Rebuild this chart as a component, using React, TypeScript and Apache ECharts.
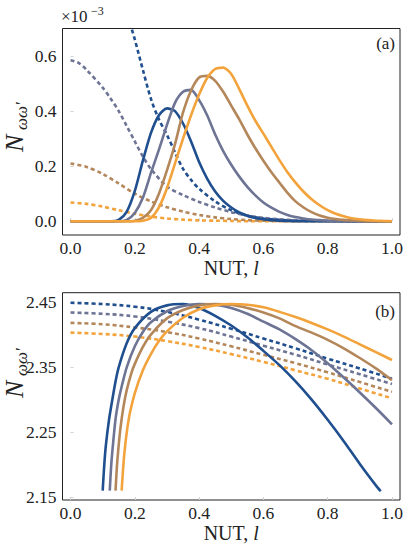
import React, { useEffect, useRef } from "react";
import * as echarts from "echarts";

const FONT = "'Liberation Serif', serif";
const INK = "#222222";

// blue, grey-blue, brown, orange
const colors = ["#1f4f8f", "#6d7494", "#b4875b", "#f3a33b"];

const xTickValues = [0, 0.2, 0.4, 0.6, 0.8, 1.0];
const yTickValuesA = [0, 0.2, 0.4, 0.6];
const yTickValuesB = [2.15, 2.25, 2.35, 2.45];

// ---------- Panel (a) ----------
const xGridA = [
  0, 0.025, 0.05, 0.075, 0.1, 0.125, 0.15, 0.175, 0.2, 0.225, 0.25, 0.275, 0.3, 0.325,
  0.35, 0.375, 0.4, 0.425, 0.45, 0.475, 0.5, 0.525, 0.55, 0.575, 0.6, 0.625, 0.65,
  0.675, 0.7, 0.725, 0.75, 0.775, 0.8, 0.825, 0.85, 0.875, 0.9, 0.925, 0.95, 0.975, 1.0,
];
const aSolidBlue = [
  0, 0, 0, 0, 0, 0, 0.005, 0.035, 0.11, 0.22, 0.32, 0.385, 0.41, 0.4, 0.355, 0.29, 0.215,
  0.155, 0.108, 0.074, 0.05, 0.032, 0.02, 0.012, 0.007, 0.004, 0.002, 0.001, 0, 0, 0, 0, 0,
  0, 0, 0, 0, 0, 0, 0, 0,
];
const aSolidGrey = [
  0, 0, 0, 0, 0, 0, 0, 0.005, 0.03, 0.085, 0.175, 0.26, 0.35, 0.43, 0.47, 0.477, 0.44,
  0.385, 0.315, 0.255, 0.205, 0.162, 0.125, 0.094, 0.068, 0.049, 0.034, 0.023, 0.015,
  0.01, 0.006, 0.004, 0.002, 0.001, 0, 0, 0, 0, 0, 0, 0,
];
const aSolidBrown = [
  0, 0, 0, 0, 0, 0, 0, 0, 0.002, 0.012, 0.04, 0.1, 0.185, 0.28, 0.395, 0.475, 0.522, 0.528,
  0.51, 0.47, 0.42, 0.37, 0.315, 0.265, 0.22, 0.178, 0.14, 0.103, 0.072, 0.05, 0.033,
  0.021, 0.013, 0.008, 0.005, 0.003, 0.001, 0, 0, 0, 0,
];
const aSolidOrange = [
  0, 0, 0, 0, 0, 0, 0, 0, 0, 0.002, 0.012, 0.05, 0.12, 0.21, 0.3, 0.385, 0.46, 0.52, 0.553,
  0.558, 0.535, 0.48, 0.42, 0.365, 0.318, 0.27, 0.222, 0.178, 0.14, 0.107, 0.08, 0.058,
  0.04, 0.027, 0.018, 0.011, 0.007, 0.004, 0.002, 0.001, 0,
];

const xDotBlueA = [
  0.18, 0.19, 0.2, 0.225, 0.25, 0.275, 0.3, 0.325, 0.35, 0.375, 0.4, 0.45, 0.5, 0.55, 0.6,
  0.65, 0.7, 0.8, 0.9, 1.0,
];
const aDotBlue = [
  0.745, 0.7, 0.66, 0.55, 0.445, 0.37, 0.314, 0.25, 0.19, 0.15, 0.118, 0.072, 0.04, 0.02,
  0.01, 0.005, 0.002, 0.001, 0, 0,
];
const xDotGreyA = [
  0, 0.025, 0.05, 0.1, 0.125, 0.15, 0.175, 0.2, 0.225, 0.25, 0.3, 0.35, 0.4, 0.45, 0.5,
  0.55, 0.6, 0.65, 0.7, 0.8, 0.9, 1.0,
];
const aDotGrey = [
  0.585, 0.575, 0.55, 0.485, 0.445, 0.4, 0.345, 0.29, 0.235, 0.19, 0.126, 0.095, 0.07,
  0.05, 0.033, 0.021, 0.012, 0.007, 0.004, 0.001, 0, 0,
];
const xDotLowA = [0, 0.05, 0.1, 0.15, 0.2, 0.25, 0.3, 0.35, 0.4, 0.45, 0.5, 0.55, 0.6, 0.7, 0.8, 1.0];
const aDotBrown = [
  0.21, 0.197, 0.172, 0.137, 0.1, 0.072, 0.051, 0.035, 0.023, 0.014, 0.008, 0.004, 0.002,
  0, 0, 0,
];
const aDotOrange = [
  0.068, 0.063, 0.053, 0.04, 0.027, 0.017, 0.01, 0.006, 0.003, 0.002, 0.001, 0, 0, 0, 0, 0,
];

// ---------- Panel (b) ----------
const xDotB = [0, 0.1, 0.2, 0.3, 0.4, 0.5, 0.6, 0.7, 0.8, 0.9, 1.0];
const bDotBlue = [2.449, 2.447, 2.443, 2.435, 2.423, 2.409, 2.394, 2.379, 2.363, 2.348, 2.332];
const bDotGrey = [2.434, 2.432, 2.428, 2.42, 2.41, 2.397, 2.383, 2.369, 2.354, 2.339, 2.324];
const bDotBrown = [2.418, 2.416, 2.411, 2.404, 2.394, 2.382, 2.369, 2.356, 2.342, 2.327, 2.312];
const bDotOrange = [2.403, 2.401, 2.397, 2.39, 2.381, 2.37, 2.358, 2.345, 2.332, 2.317, 2.302];

const xSolidBlueB = [
  0.1, 0.105, 0.11, 0.12, 0.13, 0.14, 0.15, 0.175, 0.2, 0.25, 0.3, 0.35, 0.4, 0.45, 0.5,
  0.55, 0.6, 0.65, 0.7, 0.75, 0.8, 0.85, 0.9, 0.95, 0.965,
];
const bSolidBlue = [
  2.16, 2.2, 2.23, 2.27, 2.3, 2.328, 2.35, 2.387, 2.41, 2.435, 2.445, 2.447, 2.441, 2.429,
  2.414, 2.396, 2.375, 2.353, 2.328, 2.3, 2.269, 2.236, 2.201, 2.168, 2.159,
];
const xSolidGreyB = [
  0.122, 0.126, 0.13, 0.14, 0.15, 0.16, 0.175, 0.2, 0.225, 0.25, 0.3, 0.35, 0.4, 0.45, 0.5,
  0.55, 0.6, 0.65, 0.7, 0.75, 0.8, 0.85, 0.9, 0.95, 1.0,
];
const bSolidGrey = [
  2.16, 2.195, 2.22, 2.27, 2.3, 2.322, 2.35, 2.382, 2.404, 2.419, 2.436, 2.444, 2.447,
  2.446, 2.441, 2.432, 2.42, 2.408, 2.393, 2.376, 2.356, 2.334, 2.311, 2.287, 2.262,
];
const xSolidBrownB = [
  0.14, 0.144, 0.148, 0.155, 0.165, 0.175, 0.19, 0.2, 0.225, 0.25, 0.3, 0.35, 0.4, 0.45,
  0.5, 0.55, 0.6, 0.65, 0.7, 0.75, 0.8, 0.85, 0.9, 0.95, 1.0,
];
const bSolidBrown = [
  2.16, 2.195, 2.22, 2.255, 2.29, 2.315, 2.342, 2.355, 2.381, 2.4, 2.425, 2.438, 2.445,
  2.447, 2.446, 2.441, 2.434, 2.425, 2.413, 2.403, 2.392, 2.379, 2.364, 2.348, 2.33,
];
const xSolidOrangeB = [
  0.159, 0.163, 0.167, 0.175, 0.185, 0.2, 0.225, 0.25, 0.275, 0.3, 0.35, 0.4, 0.45, 0.5,
  0.55, 0.6, 0.65, 0.7, 0.75, 0.8, 0.85, 0.9, 0.95, 1.0,
];
const bSolidOrange = [
  2.16, 2.19, 2.215, 2.25, 2.28, 2.31, 2.345, 2.37, 2.39, 2.405, 2.426, 2.439, 2.445,
  2.447, 2.446, 2.442, 2.435, 2.427, 2.418, 2.408, 2.397, 2.385, 2.373, 2.361,
];

function mk(grid: number, xs: number[], ys: number[], color: string, dashed: boolean, smooth: number) {
  return {
    type: "line",
    xAxisIndex: grid,
    yAxisIndex: grid,
    data: xs.map((x, i) => [x, ys[i]]),
    symbol: "none",
    showSymbol: false,
    smooth,
    clip: true,
    silent: true,
    lineStyle: {
      color,
      width: 2.6,
      type: dashed ? [4, 3] : "solid",
      cap: "butt",
      join: "round",
    },
  };
}

function xAxisFor(grid: number) {
  return {
    type: "value",
    gridIndex: grid,
    min: -0.025,
    max: 1.025,
    axisLine: { show: false },
    splitLine: { show: false },
    axisTick: {
      show: true,
      inside: true,
      length: 3,
      customValues: xTickValues,
      lineStyle: { color: "#d0d0d0" },
    },
    axisLabel: {
      customValues: xTickValues,
      formatter: (v: number) => v.toFixed(1),
      fontFamily: FONT,
      fontSize: 17.5,
      color: INK,
      margin: 4,
    },
    name: "{r|NUT, }{i|l}",
    nameLocation: "middle",
    nameGap: 20,
    nameTextStyle: {
      rich: {
        r: { fontFamily: FONT, fontSize: 20, color: INK },
        i: { fontFamily: FONT, fontSize: 20, fontStyle: "italic", color: INK },
      },
    },
  };
}

function yAxisFor(grid: number, min: number, max: number, ticks: number[], digits: number) {
  return {
    type: "value",
    gridIndex: grid,
    min,
    max,
    axisLine: { show: false },
    splitLine: { show: false },
    axisTick: {
      show: true,
      inside: true,
      length: 3,
      customValues: ticks,
      lineStyle: { color: "#d0d0d0" },
    },
    axisLabel: {
      customValues: ticks,
      formatter: (v: number) => v.toFixed(digits),
      fontFamily: FONT,
      fontSize: 17.5,
      color: INK,
      margin: 6,
    },
  };
}

function txt(x: number, y: number, text: string, size: number, extra: any = {}, styleExtra: any = {}) {
  return {
    type: "text",
    x,
    y,
    ...extra,
    style: {
      text,
      fontFamily: FONT,
      fontSize: size,
      fill: INK,
      align: "left",
      verticalAlign: "bottom",
      ...styleExtra,
    },
  };
}

export default function App() {
  const ref = useRef<HTMLDivElement>(null);
  useEffect(() => {
    if (!ref.current) return;
    const chart = echarts.init(ref.current, null, { renderer: "svg" });
    const option = {
      animation: false,
      backgroundColor: "#ffffff",
      grid: [
        {
          left: 62.5, top: 28.5, width: 337.5, height: 206.5,
          show: true, borderColor: INK, borderWidth: 1, containLabel: false, outerBoundsMode: "none",
        },
        {
          left: 62.5, top: 292.7, width: 337.5, height: 207.3,
          show: true, borderColor: INK, borderWidth: 1, containLabel: false, outerBoundsMode: "none",
        },
      ],
      xAxis: [xAxisFor(0), xAxisFor(1)],
      yAxis: [
        yAxisFor(0, -0.05, 0.7, yTickValuesA, 1),
        yAxisFor(1, 2.1455, 2.4645, yTickValuesB, 2),
      ],
      series: [
        mk(0, xDotLowA, aDotOrange, colors[3], true, 0.3),
        mk(0, xDotLowA, aDotBrown, colors[2], true, 0.3),
        mk(0, xDotGreyA, aDotGrey, colors[1], true, 0.3),
        mk(0, xDotBlueA, aDotBlue, colors[0], true, 0.3),
        mk(0, xGridA, aSolidBlue, colors[0], false, 0.25),
        mk(0, xGridA, aSolidGrey, colors[1], false, 0.25),
        mk(0, xGridA, aSolidBrown, colors[2], false, 0.25),
        mk(0, xGridA, aSolidOrange, colors[3], false, 0.25),
        mk(1, xDotB, bDotOrange, colors[3], true, 0.4),
        mk(1, xDotB, bDotBrown, colors[2], true, 0.4),
        mk(1, xDotB, bDotGrey, colors[1], true, 0.4),
        mk(1, xDotB, bDotBlue, colors[0], true, 0.4),
        mk(1, xSolidBlueB, bSolidBlue, colors[0], false, 0.25),
        mk(1, xSolidGreyB, bSolidGrey, colors[1], false, 0.25),
        mk(1, xSolidBrownB, bSolidBrown, colors[2], false, 0.25),
        mk(1, xSolidOrangeB, bSolidOrange, colors[3], false, 0.25),
      ],
      graphic: [
        txt(61, 25, "×10", 17),
        txt(91, 17, "−3", 12),
        txt(395, 43, "(a)", 17, {}, { align: "right", verticalAlign: "middle" }),
        txt(395, 311, "(b)", 17, {}, { align: "right", verticalAlign: "middle" }),
        txt(27, 152, "N", 26, { rotation: Math.PI / 2 }, { fontStyle: "italic" }),
        txt(30, 130, "ωω′", 17, { rotation: Math.PI / 2 }, { fontStyle: "italic" }),
        txt(27, 398, "N", 26, { rotation: Math.PI / 2 }, { fontStyle: "italic" }),
        txt(30, 376, "ωω′", 17, { rotation: Math.PI / 2 }, { fontStyle: "italic" }),
      ],
    };
    chart.setOption(option as any);
    return () => chart.dispose();
  }, []);
  return (
    <div
      ref={ref}
      style={{ position: "absolute", left: 0, top: 0, width: 411, height: 550 }}
    />
  );
}
